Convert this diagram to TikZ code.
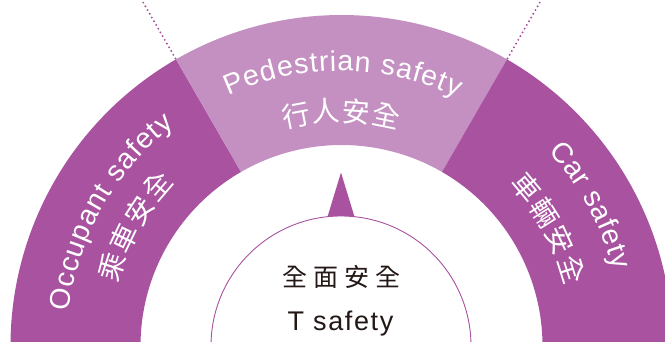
\documentclass[tikz,border=0pt]{standalone}
\usepackage{fontspec}
\setmainfont{Liberation Sans}
\newfontfamily\cjk{Noto Sans CJK TC}
\usetikzlibrary{decorations.text}
\definecolor{dp}{RGB}{168,82,160}
\definecolor{lp}{RGB}{196,143,193}
\definecolor{tx}{RGB}{35,24,21}
\newcommand\entxt{\fontsize{28.5}{29}\selectfont\color{white}}
\newcommand\zhtxt{\cjk\fontsize{28}{28}\selectfont\color{white}}
\newcommand\annsec[3]{%
  \fill[#1] ([shift={(#2:331)}]C) arc[start angle=#2,end angle=#3,radius=331]
    -- ([shift={(#3:201)}]C) arc[start angle=#3,end angle=#2,radius=201] -- cycle;}
\newcommand\arctext[5]{% start, end, radius, format, text
  \begingroup#4%
  \path[decorate,decoration={text along path,text align=fit to path,
    text color=white,text={|#4|#5}}] ([shift={(#1:#3)}]T) arc[start angle=#1,end angle=#2,radius=#3];%
  \endgroup}
\tikzset{
  dotline/.style={dp,line width=2.2pt,line cap=round,dash pattern=on 0pt off 4.3pt},
  core/.style={circle,draw=dp,line width=0.9pt,fill=white,minimum size=260pt,inner sep=0pt},
  dark/.style={text=tx,inner sep=0pt}
}
\begin{document}
\begin{tikzpicture}[x=1pt,y=1pt]
\useasboundingbox (0,0) rectangle (665,341);
\clip (0,0) rectangle (665,341);
\coordinate (C) at (341.5,-5);
\coordinate (T) at (340.5,-1);
% band sectors
\annsec{dp}{120}{186}
\annsec{lp}{60}{120}
\annsec{dp}{-6}{60}
% dotted radial lines
\coordinate (L1) at ([shift={(120:332)}]C);
\coordinate (L2) at ([shift={(120:430)}]C);
\coordinate (R1) at ([shift={(60:332)}]C);
\coordinate (R2) at ([shift={(60:430)}]C);
\draw[dotline] (L1) -- (L2);
\draw[dotline] (R1) -- (R2);
% pointer triangle
\coordinate (tA) at (341,168.5);
\coordinate (tB) at (325,116);
\coordinate (tC) at (357,116);
\fill[dp] (tA) -- (tB) -- (tC) -- cycle;
% core circle
\node[core] (core) at (341,-5) {};
\node[dark,font=\cjk\fontsize{25}{25}\selectfont] (zh) at (341,64.5)
  {全\hspace{6pt}面\hspace{6pt}安\hspace{6pt}全};
\node[dark,anchor=base,font=\fontsize{27}{27}\selectfont\addfontfeature{LetterSpace=6}] (en) at (340.5,11) {T safety};
% curved labels
\arctext{114.5}{64.5}{271}{\entxt}{Pedestrian safety}
\arctext{104.8}{74.8}{220.5}{\zhtxt}{行人安全}
\arctext{173.6}{127.5}{273}{\entxt}{Occupant safety}
\arctext{165.3}{136.0}{230}{\zhtxt}{乘車安全}
\arctext{42.6}{14.7}{282}{\entxt}{Car safety}
\arctext{43.2}{14.0}{231.5}{\zhtxt}{車輛安全}
\end{tikzpicture}
\end{document}
